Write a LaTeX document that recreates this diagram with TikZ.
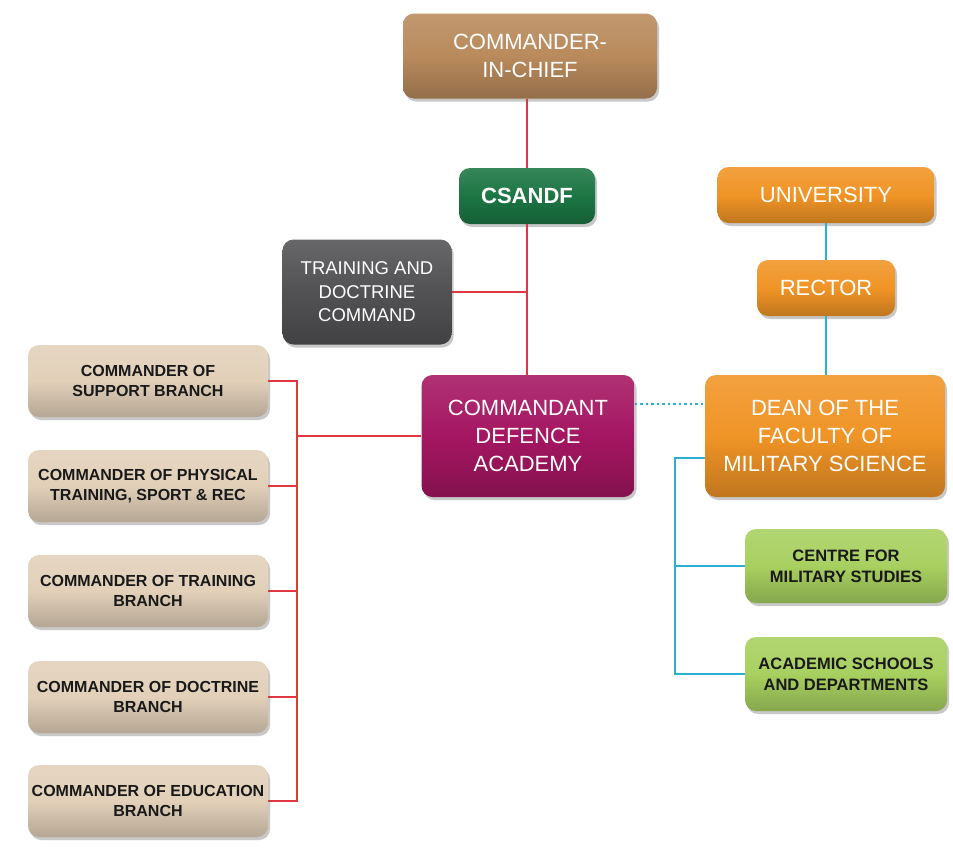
\documentclass[tikz,border=0pt]{standalone}
\usepackage{fontspec}
\setmainfont{Liberation Sans}
\usetikzlibrary{shadows}
\definecolor{cinccol}{RGB}{185,138,92}
\definecolor{csacol}{RGB}{28,118,68}
\definecolor{tdccol}{RGB}{82,82,84}
\definecolor{beige}{RGB}{226,208,185}
\definecolor{cmdtcol}{RGB}{165,22,98}
\definecolor{orng}{RGB}{240,148,38}
\definecolor{lgreen}{RGB}{168,208,96}
\definecolor{redline}{RGB}{222,55,65}
\definecolor{cyline}{RGB}{45,175,210}
\tikzset{
  box/.style={rounded corners=11pt, align=center, inner sep=0pt, draw=none,
    drop shadow={shadow xshift=2pt, shadow yshift=-3pt, opacity=0.3, fill=black!70}},
  shade col/.style={top color=#1!88!white, bottom color=#1!80!black, middle color=#1},
  bigw/.style={text=white, font=\fontsize{22}{28}\selectfont},
  smallb/.style={text=black!90, font=\fontsize{16}{20.5}\selectfont\bfseries},
  leftbox/.style={box, shade col=beige, smallb, minimum width=240pt, minimum height=72pt},
  greenbox/.style={box, shade col=lgreen, text=black!90, font=\fontsize{16.5}{21}\selectfont\bfseries, minimum width=202pt, minimum height=74pt},
  redc/.style={draw=redline, line width=1.5pt},
  cyc/.style={draw=cyline, line width=1.5pt},
}
\begin{document}
\begin{tikzpicture}[x=1pt,y=-1pt]
\useasboundingbox (0,0) rectangle (953,854);
\fill[white] (0,0) rectangle (953,854);

% nodes
\node[box, shade col=cinccol, bigw, minimum width=254pt, minimum height=85pt] (cinc) at (530,56) {COMMANDER-\\IN-CHIEF};
\node[box, shade col=csacol, text=white, font=\fontsize{22}{28}\selectfont\bfseries, minimum width=136pt, minimum height=56pt] (csandf) at (527,196) {CSANDF};
\node[box, shade col=tdccol, text=white, font=\fontsize{18.5}{23.5}\selectfont, minimum width=169pt, minimum height=105pt] (tdc) at (367,292) {TRAINING AND\\DOCTRINE\\COMMAND};
\node[box, shade col=cmdtcol, bigw, minimum width=213pt, minimum height=122pt] (cmdt) at (528,436) {COMMANDANT\\DEFENCE\\ACADEMY};

\node[box, shade col=orng, bigw, minimum width=217pt, minimum height=56pt] (uni) at (826,195) {UNIVERSITY};
\node[box, shade col=orng, bigw, minimum width=138pt, minimum height=56pt] (rector) at (826,288) {RECTOR};
\node[box, shade col=orng, bigw, minimum width=240pt, minimum height=122pt] (dean) at (825,436) {DEAN OF THE\\FACULTY OF\\MILITARY SCIENCE};

\node[greenbox] (cms) at (846,566) {CENTRE FOR\\MILITARY STUDIES};
\node[greenbox] (acad) at (846,674) {ACADEMIC SCHOOLS\\AND DEPARTMENTS};

\node[leftbox] (sup) at (148,381) {COMMANDER OF\\SUPPORT BRANCH};
\node[leftbox] (phy) at (148,486) {COMMANDER OF PHYSICAL\\TRAINING, SPORT \& REC};
\node[leftbox] (trn) at (148,591) {COMMANDER OF TRAINING\\BRANCH};
\node[leftbox] (doc) at (148,697) {COMMANDER OF DOCTRINE\\BRANCH};
\node[leftbox] (edu) at (148,801) {COMMANDER OF EDUCATION\\BRANCH};

% red connectors
\draw[redc] (csandf.north |- cinc.south) -- (csandf.north);
\draw[redc] (csandf.south) -- (csandf.south |- cmdt.north);
\draw[redc] (tdc.east) -- (tdc.east -| csandf.south);
\coordinate (bus) at (297,437);
\draw[redc] (cmdt.west) -- (cmdt.west -| bus);
\draw[redc] (sup.east) -- (sup.east -| bus) -- (edu.east -| bus) -- (edu.east);
\draw[redc] (phy.east) -- (phy.east -| bus);
\draw[redc] (trn.east) -- (trn.east -| bus);
\draw[redc] (doc.east) -- (doc.east -| bus);

% cyan connectors
\draw[cyc] (uni.south) -- (rector.north);
\draw[cyc] (rector.south) -- (rector.south |- dean.north);
\coordinate (dotl) at (0,404);
\draw[cyline, line width=2.5pt, dash pattern=on 2.5pt off 3pt] (cmdt.east |- dotl) -- (dean.west |- dotl);
\coordinate (cb) at (675,458);
\draw[cyc] (cb -| dean.west) -- (cb) -- (cb |- acad.west) -- (acad.west);
\draw[cyc] (cb |- cms.west) -- (cms.west);
\end{tikzpicture}
\end{document}
